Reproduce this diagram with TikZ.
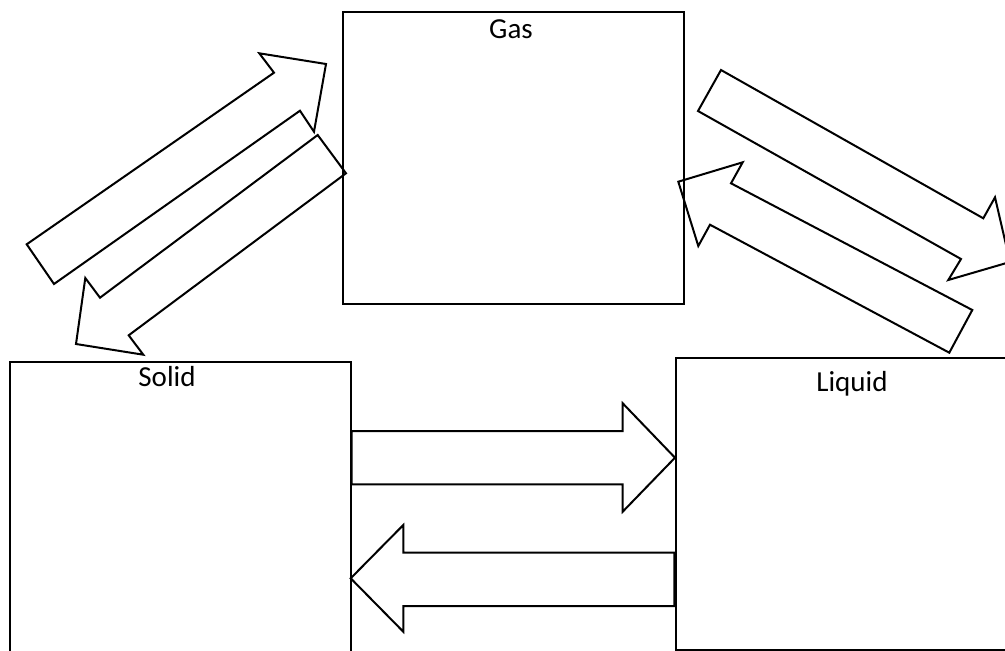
\documentclass[tikz,border=0pt]{standalone}
\usepackage{fontspec}
\setmainfont{Carlito}
\begin{document}
\begin{tikzpicture}[x=1pt,y=-1pt,
  statebox/.style={draw=black, line width=2pt, minimum width=#1, inner sep=0pt, outer sep=0pt, anchor=north west},
  statelabel/.style={anchor=base, inner sep=0pt, font=\fontsize{29}{33}\selectfont},
  blockarrow/.style={draw=black, line width=2pt, line join=miter}]
\useasboundingbox (0,0) rectangle (1005,651);
\clip (0,0) rectangle (1005,651);
% boxes
\node[statebox=341pt, minimum height=292pt] (gas) at (343,12) {};
\node[statebox=341pt, minimum height=320pt] (solid) at (9.5,362) {};
\node[statebox=345pt, minimum height=292pt] (liquid) at (675.5,357.5) {};
% labels
\node[statelabel] (gaslabel) at (511,38) {Gas};
\node[statelabel] (solidlabel) at (167,386) {Solid};
\node[statelabel] (liquidlabel) at (852,391) {Liquid};
% Solid -> Gas
\draw[blockarrow] (26.7,244.3) -- (274,72.7) -- (259.3,53.3) -- (326,64) -- (314,131.7) -- (300,110.7) -- (54,284) -- cycle;
% Gas -> Solid
\draw[blockarrow] (317.7,135) -- (100,297.7) -- (85.3,278) -- (76,344) -- (143.3,354.7) -- (128.7,335.3) -- (346,173.3) -- cycle;
% Gas -> Liquid
\draw[blockarrow] (721,70) -- (983.3,218.3) -- (995,197.3) -- (1010,262) -- (948.3,280) -- (961,259) -- (698,111) -- cycle;
% Liquid -> Gas
\draw[blockarrow] (972.3,310) -- (731,183.3) -- (742.7,162.3) -- (678.3,181.7) -- (698.3,246) -- (710,224.7) -- (949.3,352.7) -- cycle;
% Solid -> Liquid
\draw[blockarrow] (351.7,431) -- (622.7,431) -- (622.7,403.3) -- (675,457.7) -- (622.7,511.7) -- (622.7,484.3) -- (351.7,484.3) -- cycle;
% Liquid -> Solid
\draw[blockarrow] (674.3,552.7) -- (403.3,552.7) -- (403.3,525) -- (350.7,578.3) -- (403.3,631.7) -- (403.3,606) -- (674.3,606) -- cycle;
\end{tikzpicture}
\end{document}
